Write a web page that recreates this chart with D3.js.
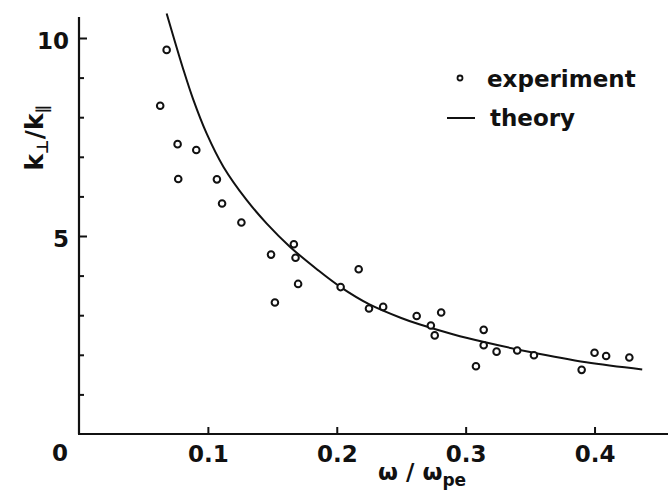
<!DOCTYPE html>
<html>
<head>
<meta charset="utf-8">
<script src="https://cdn.jsdelivr.net/npm/d3@7"></script>
<style>
  html, body { margin: 0; padding: 0; background: #fff; }
  svg { display: block; font-family: "DejaVu Sans", sans-serif; font-weight: bold; }
</style>
</head>
<body>
<svg id="chart" width="668" height="497"></svg>
<script>
// experiment points
var expX = [0.063, 0.068, 0.0765, 0.077, 0.091, 0.107, 0.111, 0.126, 0.149, 0.152,
            0.1667, 0.168, 0.170, 0.203, 0.217, 0.225, 0.236, 0.262, 0.273, 0.276,
            0.281, 0.308, 0.314, 0.314, 0.324, 0.340, 0.353, 0.390, 0.400, 0.409, 0.427];
var expY = [8.29, 9.70, 7.32, 6.44, 7.17, 6.43, 5.82, 5.34, 4.53, 3.32,
            4.79, 4.45, 3.79, 3.71, 4.16, 3.17, 3.21, 2.98, 2.74, 2.49,
            3.07, 1.71, 2.63, 2.24, 2.08, 2.11, 1.99, 1.62, 2.05, 1.97, 1.93];

// theory curve
var theoryX = [0.068, 0.081, 0.0886, 0.099, 0.112, 0.130, 0.1455, 0.1636, 0.185,
               0.203, 0.225, 0.250, 0.264, 0.290, 0.316, 0.350, 0.3935, 0.437];
var theoryY = [10.62, 9.20, 8.45, 7.59, 6.75, 5.91, 5.32, 4.73, 4.15,
               3.71, 3.28, 2.93, 2.77, 2.52, 2.31, 2.07, 1.81, 1.63];

var xTicks = [0.1, 0.2, 0.3, 0.4];
var yMajor = [5, 10];
var yMinor = [1, 2, 3, 4, 6, 7, 8, 9];

var svg = d3.select("#chart");
var ink = "#111";

var x = d3.scaleLinear().domain([0, 0.457]).range([79, 668]);
var y = d3.scaleLinear().domain([0, 10]).range([434, 38]);

// axis lines
svg.append("line")
  .attr("x1", x(0)).attr("x2", x(0))
  .attr("y1", y(0)).attr("y2", y(10.53))
  .attr("stroke", ink).attr("stroke-width", 2.2);
svg.append("line")
  .attr("x1", x(0) - 1).attr("x2", x(0.457))
  .attr("y1", y(0)).attr("y2", y(0))
  .attr("stroke", ink).attr("stroke-width", 2.2);

// y ticks (inward), minor and major
var yMinorAxis = svg.append("g")
  .attr("transform", "translate(" + x(0) + ",0)")
  .call(d3.axisLeft(y).tickValues(yMinor).tickSize(-5).tickFormat(""));
var yMajorAxis = svg.append("g")
  .attr("transform", "translate(" + x(0) + ",0)")
  .call(d3.axisLeft(y).tickValues(yMajor).tickSize(-8).tickPadding(10).tickFormat(d3.format("d")));

// x ticks (inward)
var xAxis = svg.append("g")
  .attr("transform", "translate(0," + y(0) + ")")
  .call(d3.axisBottom(x).tickValues(xTicks).tickSize(-7).tickPadding(14).tickFormat(d3.format(".1f")));

[yMinorAxis, yMajorAxis, xAxis].forEach(function(g) {
  g.select(".domain").remove();
  g.selectAll(".tick line").attr("stroke", ink).attr("stroke-width", 2);
  g.selectAll("text")
    .attr("fill", ink)
    .style("font-family", "DejaVu Sans, sans-serif")
    .style("font-weight", "bold")
    .style("font-size", "23px");
});
yMajorAxis.selectAll("text").attr("dy", "0.45em");
xAxis.selectAll("text").attr("dy", "0.6em");

// corner zero
svg.append("text")
  .attr("x", 60).attr("y", 461)
  .attr("text-anchor", "middle")
  .attr("fill", ink)
  .style("font-size", "23px")
  .text("0");

// theory line
var pts = theoryX.map(function(v, i) { return [v, theoryY[i]]; });
var line = d3.line()
  .x(function(d) { return x(d[0]); })
  .y(function(d) { return y(d[1]); })
  .curve(d3.curveCatmullRom.alpha(0.5));
svg.append("path")
  .datum(pts)
  .attr("d", line)
  .attr("fill", "none")
  .attr("stroke", ink)
  .attr("stroke-width", 2);

// experiment circles
svg.append("g")
  .selectAll("circle")
  .data(expX.map(function(v, i) { return [v, expY[i]]; }))
  .join("circle")
  .attr("cx", function(d) { return x(d[0]); })
  .attr("cy", function(d) { return y(d[1]); })
  .attr("r", 3.3)
  .attr("fill", "#fff")
  .attr("stroke", ink)
  .attr("stroke-width", 2);

// legend
svg.append("circle")
  .attr("cx", 460).attr("cy", 78).attr("r", 2.5)
  .attr("fill", "#fff").attr("stroke", ink).attr("stroke-width", 1.8);
svg.append("text")
  .attr("x", 487).attr("y", 87)
  .attr("fill", ink).style("font-size", "23px")
  .text("experiment");
svg.append("line")
  .attr("x1", 447).attr("x2", 475).attr("y1", 118).attr("y2", 118)
  .attr("stroke", ink).attr("stroke-width", 2);
svg.append("text")
  .attr("x", 490).attr("y", 126)
  .attr("fill", ink).style("font-size", "23px")
  .text("theory");

// x title
var xt = svg.append("text")
  .attr("x", 378).attr("y", 480)
  .attr("fill", ink).style("font-size", "23px");
xt.append("tspan").text("ω / ω");
xt.append("tspan").attr("dy", 6).style("font-size", "17px").text("pe");

// y title
var yt = svg.append("text")
  .attr("transform", "translate(43,138) rotate(-90)")
  .attr("text-anchor", "middle")
  .attr("fill", ink).style("font-size", "25px");
yt.append("tspan").text("k");
yt.append("tspan").attr("dy", 5).style("font-size", "16px").text("⊥");
yt.append("tspan").attr("dy", -5).text("/k");
yt.append("tspan").attr("dy", 5).style("font-size", "16px").text("∥");
</script>
</body>
</html>
